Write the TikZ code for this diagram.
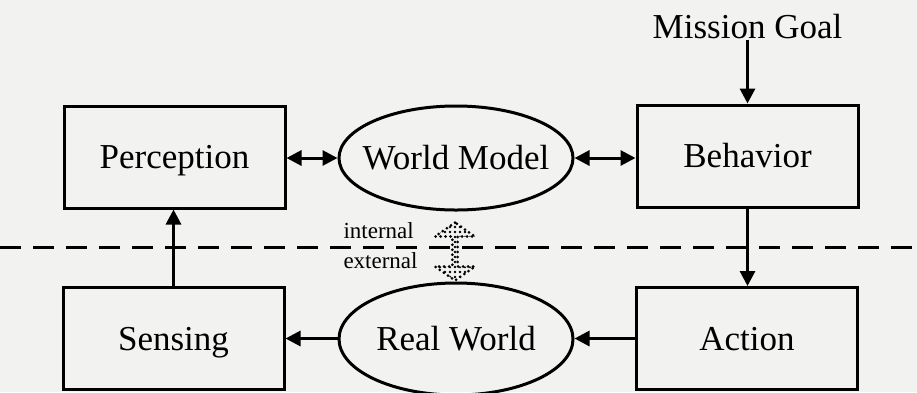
\documentclass[tikz,border=0pt]{standalone}
\usepackage{fontspec}
\setmainfont{Liberation Serif}
\usetikzlibrary{arrows.meta,shapes.geometric,shapes.arrows,patterns.meta}
\definecolor{paper}{RGB}{242,242,240}
\begin{document}
\begin{tikzpicture}[x=1pt,y=-1pt,line width=3pt,>={Triangle[length=15pt,width=15pt]},
	block/.style={draw,rectangle,minimum width=221pt,minimum height=102pt,inner sep=0pt,text height=23pt,text depth=0pt,font=\fontsize{35}{40}\selectfont},
	world/.style={draw,ellipse,minimum width=234pt,minimum height=104pt,inner xsep=-14pt,inner ysep=0pt,text height=23pt,text depth=0pt,font=\fontsize{35}{40}\selectfont},
	sidelabel/.style={anchor=base west,inner sep=0pt,font=\fontsize{23}{26}\selectfont}]
		\fill[paper] (0,0) rectangle (917,392); % Background
		\clip (0,0) rectangle (917,392);

		\node[block] (perc) at (174.5,157) {Perception}; % Upper row
		\node[world] (wm) at (456,158) {World Model};
		\node[block] (behav) at (747.5,156) {Behavior};

		\node[block] (sens) at (173.5,338.5) {Sensing}; % Lower row
		\node[world,minimum height=112pt] (rw) at (456,339) {Real World};
		\node[block] (act) at (747,338.5) {Action};

		\node[anchor=base,inner sep=0pt,font=\fontsize{35}{40}\selectfont] (goal) at (747.5,38) {Mission Goal}; % Goal on top

		\draw[->] (goal.south) -- (goal.south |- behav.north); % Goal into behavior
		\draw[<->] (perc.east |- wm.west) -- (wm.west); % Perception and world model
		\draw[<->] (wm.east) -- (wm.east -| behav.west); % World model and behavior
		\draw[->] (behav.south) -- (behav.south |- act.north); % Behavior to action
		\draw[->] (act.west) -- (act.west -| rw.east); % Action on the real world
		\draw[->] (rw.west |- sens.east) -- (sens.east); % Real world to sensing
		\draw[->] (sens.north) -- (sens.north |- perc.south); % Sensing to perception

		\coordinate (cutL) at (0,247);
		\coordinate (cutR) at (917,247);
		\draw[dash pattern=on 21pt off 12pt] (cutL) -- (cutR); % Internal / external border

		\node[sidelabel] (inner) at (342,238) {internal};
		\node[sidelabel] (outer) at (342,268) {external};

		\node[double arrow,draw,line width=3pt,line cap=round,dash pattern=on 0pt off 5pt,pattern={Dots[distance=5pt,radius=1.4pt]},
			rotate=90,minimum height=58pt,minimum width=40pt,double arrow head extend=10pt,double arrow head indent=0pt,
			double arrow tip angle=110,inner sep=0pt] (link) at (455,251.5) {}; % Model tied to the world
	\end{tikzpicture}
\end{document}
